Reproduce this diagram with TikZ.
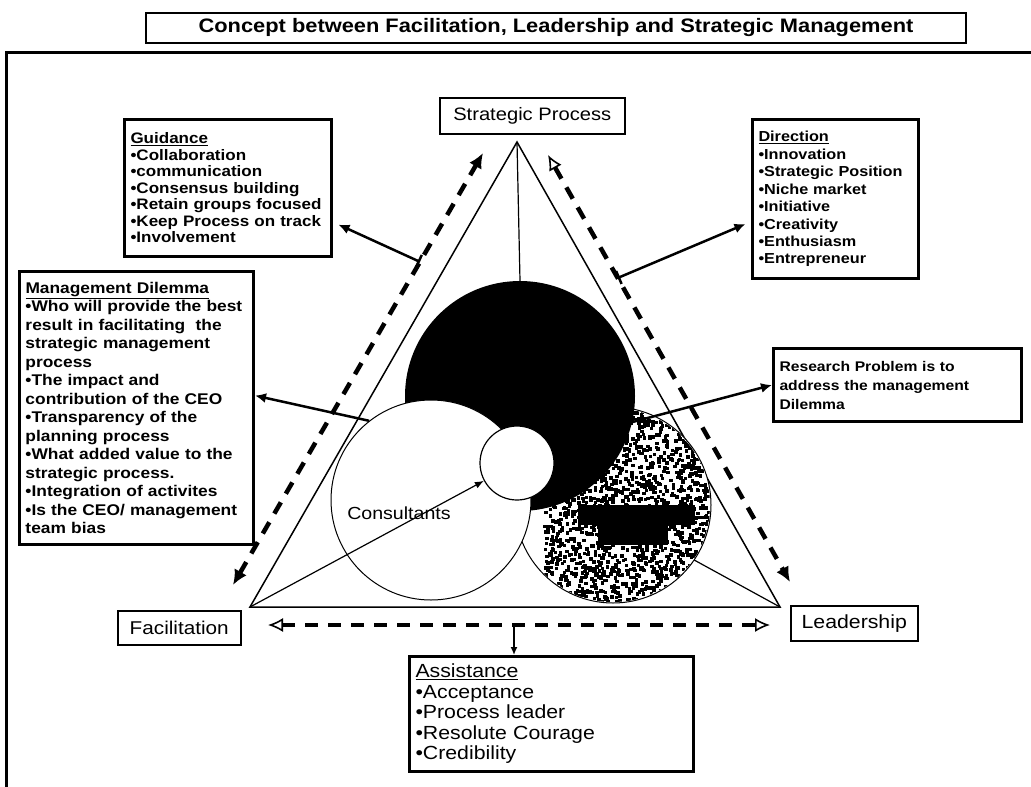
\documentclass[tikz,border=0pt]{standalone}
\usepackage{fontspec}
\setmainfont{Liberation Sans}[FakeStretch=1.12]
\usetikzlibrary{positioning,
				arrows.meta,
				calc}

\tikzset{
  labelbox/.style={draw, line width=1.5pt, inner sep=0pt, anchor=north west},
  listbox/.style={draw, line width=3pt, inner xsep=6pt, inner ysep=3pt, anchor=north west, align=left},
  dashside/.style={line width=4.5pt, dash pattern=on 13pt off 10pt},
  pointer/.style={line width=2.5pt, -{Latex[length=11pt,width=10pt]}},
  opentip/.tip={Latex[open,length=15pt,width=14pt,line width=1.6pt]},
  fulltip/.tip={Latex[length=15pt,width=14pt]},
}

\begin{document}
\begin{tikzpicture}[x=1pt,y=-1pt]
  \useasboundingbox (0,0) rectangle (1031,787);
  % frame and title
  \draw[line width=3pt] (6,787) -- (6,52) -- (1031,52);
  \node[draw, line width=2pt, minimum width=820pt, minimum height=30pt, anchor=north west,
        font=\bfseries\fontsize{19.5}{21}\selectfont] (title) at (145,12)
    {Concept between Facilitation, Leadership and Strategic Management};

  % corner labels
  \node[labelbox, minimum width=185pt, minimum height=36pt, font=\fontsize{18}{20}\selectfont] (strat) at (439,97) {Strategic Process};
  \node[labelbox, minimum width=123pt, minimum height=34pt, font=\fontsize{18.5}{20}\selectfont] (facil) at (117,610) {Facilitation};
  \node[labelbox, minimum width=127pt, minimum height=35pt, font=\fontsize{19}{20}\selectfont] (leader) at (790,605) {Leadership};

  % text boxes
  \node[listbox, text width=195pt, minimum height=137pt, font=\bfseries\fontsize{15.2}{16.5}\selectfont] (guid) at (123,118)
    {\underline{Guidance}\\ \textbullet Collaboration\\ \textbullet communication\\ \textbullet Consensus building\\
     \textbullet Retain groups focused\\ \textbullet Keep Process on track\\ \textbullet Involvement};
  \node[listbox, text width=154pt, minimum height=159pt, font=\bfseries\fontsize{14.5}{17.5}\selectfont] (dir) at (751,118)
    {\underline{Direction}\\ \textbullet Innovation\\ \textbullet Strategic Position\\ \textbullet Niche market\\
     \textbullet Initiative\\ \textbullet Creativity\\ \textbullet Enthusiasm\\ \textbullet Entrepreneur};
  \node[listbox, text width=222pt, minimum height=273pt, font=\bfseries\fontsize{15.5}{18.5}\selectfont] (dilemma) at (18,270)
    {\underline{Management Dilemma}\\ \textbullet Who will provide the best\\ result in facilitating\ \ the\\
     strategic management\\ process\\ \textbullet The impact and\\ contribution of the CEO\\
     \textbullet Transparency of the\\ planning process\\ \textbullet What added value to the\\
     strategic process.\\ \textbullet Integration of activites\\ \textbullet Is the CEO/ management\\ team bias};
  \node[listbox, text width=236pt, minimum height=73pt, font=\bfseries\fontsize{14}{19}\selectfont] (research) at (772,347)
    {Research Problem is to\\ address the management\\ Dilemma};
  \node[listbox, text width=272pt, minimum height=115pt, font=\fontsize{19}{20.5}\selectfont] (assist) at (408,655)
    {\underline{Assistance}\\ \textbullet Acceptance\\ \textbullet Process leader\\ \textbullet Resolute Courage\\ \textbullet Credibility};

  % triangle
  \coordinate (top) at (517,142);
  \coordinate (bl) at (250,607);
  \coordinate (br) at (780,607);
  \coordinate (mid) at (517,463);
  \draw[line width=1.5pt] (top) -- (bl) -- (br) -- cycle;
  \draw[line width=1.2pt] (br) -- (mid);

  % circles
  \node[circle, draw, fill=white, line width=1pt, minimum size=196pt, inner sep=0pt] (lead) at (613,505) {};
  \begin{scope}
    \clip (lead.center) circle[radius=97pt];
    \pgfmathsetseed{12}
    \foreach \i in {1,...,1900}{
      \fill ({543+172*rnd},{405+200*rnd}) rectangle ++(3.5,3.5);
    }
    \fill (578,505) rectangle (695,525);
    \fill (598,525) rectangle (668,545);
  \end{scope}
  \node[circle, fill=black, minimum size=230pt, inner sep=0pt] (vision) at (520,396) {};
  \draw[line width=1.2pt] (top) -- (vision.north);
  \node[circle, draw, fill=white, line width=1pt, minimum size=200pt, inner sep=0pt] (consult) at (431,500) {};
  \node[circle, draw, fill=white, line width=1.2pt, minimum size=74pt, inner sep=0pt] (core) at (mid) {};
  \node[font=\fontsize{17.5}{20}\selectfont] (consname) at (399,513) {Consultants};

  % pointers
  \coordinate (rp) at (576,437);
  \draw[line width=1.2pt, -{Latex[length=9pt,width=7pt]}] (bl) -- (core);
  \draw[pointer] (consult.128) -- (dilemma.6);
  \draw[pointer] (rp) -- (research.west);

  % dashed sides
  \coordinate (ltop) at (483,153);
  \coordinate (lbot) at (233,585);
  \coordinate (rtop) at (548,155);
  \coordinate (rbot) at (790,582);
  \coordinate (bleft) at (268,625);
  \coordinate (bright) at (770,625);
  \draw[dashside, fulltip-fulltip] (lbot) -- (ltop);
  \draw[dashside, opentip-fulltip] (rtop) -- (rbot);
  \draw[dashside, opentip-opentip] (bleft) -- (bright);

  % links to the boxes
  \coordinate (gT) at ($(lbot)!0.748!(ltop)$);
  \coordinate (dT) at ($(rtop)!0.288!(rbot)$);
  \coordinate (aT) at ($(bleft)!0.49!(bright)$);
  \draw[pointer, {Bar[width=14pt]}-{Latex[length=11pt,width=10pt]}, shorten >=6pt] (gT) -- (guid.-18);
  \draw[pointer, {Bar[width=14pt]}-{Latex[length=11pt,width=10pt]}, shorten >=6pt] (dT) -- (dir.195);
  \draw[line width=1.5pt, -{Latex[length=8pt,width=7pt]}] (aT) -- (assist.north -| aT);
\end{tikzpicture}
\end{document}
